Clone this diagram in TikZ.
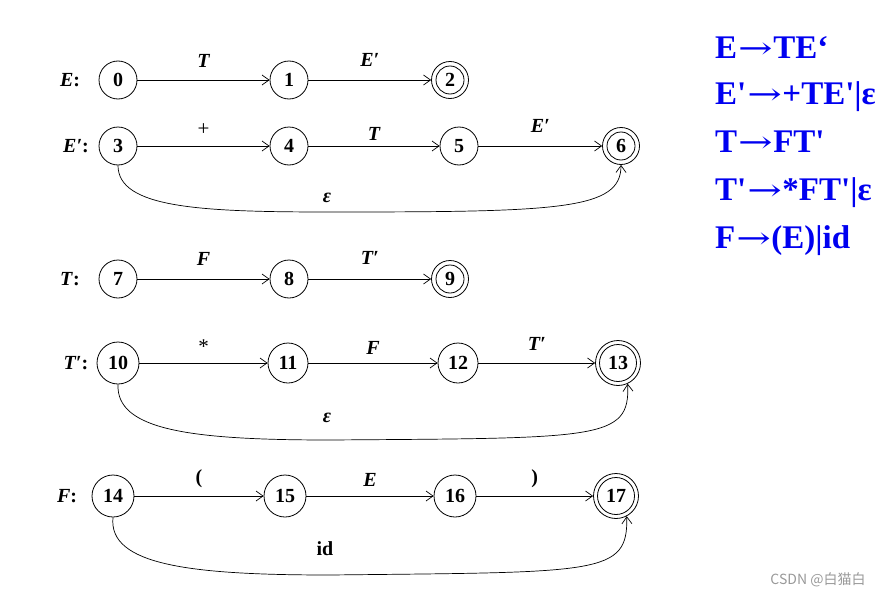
\documentclass[tikz,border=0pt]{standalone}
\usepackage{fontspec}
\usepackage{graphicx}
\setmainfont{Liberation Serif}
\newfontfamily\gramfont{Liberation Serif}
\newfontfamily\arrfont{DejaVu Serif}
\newfontfamily\cjk{Noto Sans CJK SC}
\usetikzlibrary{arrows.meta}
\definecolor{gramblue}{RGB}{0,0,240}
\newcommand{\garr}{\kern1pt\scalebox{1.25}[0.9]{\arrfont\mdseries →}\kern0.5pt}
\begin{document}
\begin{tikzpicture}[x=1pt,y=-1pt,
  st/.style={circle,draw,line width=0.8pt,minimum size=38pt,inner sep=0pt,font=\fontsize{20}{22}\selectfont\bfseries},
  bst/.style={st,minimum size=42pt},
  acc/.style={st,minimum size=37pt},
  bacc/.style={st,minimum size=45pt},
  arr/.style={line width=0.7pt,-{Straight Barb[length=7pt,width=10pt]}},
  elab/.style={font=\fontsize{20}{22}\selectfont\bfseries\itshape},
  plab/.style={font=\fontsize{21}{22}\selectfont},
  blab/.style={font=\fontsize{20}{22}\selectfont\bfseries},
  rlab/.style={font=\fontsize{20}{22}\selectfont\bfseries},
  gram/.style={anchor=base west,inner sep=0pt,text=gramblue,font=\gramfont\fontsize{33}{36}\selectfont\bfseries},
]
\useasboundingbox (0,0) rectangle (892,597);

% ---- row E
\node[rlab] (lE) at (70,80) {\textit{E}:};
\node[st] (n0) at (118,80) {0};
\node[st] (n1) at (289,80) {1};
\node[acc] (n2) at (450,80) {2};
\draw[line width=0.8pt] (n2.center) circle (14pt);
\draw[arr] (n0) -- (n1) node[elab,midway,above=9pt] (t01) {T};
\draw[arr] (n1) -- (n2) node[elab,midway,above=10pt] (t12) {E′};

% ---- row E'
\node[rlab] (lEp) at (76,146) {\textit{E′}:};
\node[st] (n3) at (118,146) {3};
\node[st] (n4) at (289,146) {4};
\node[st] (n5) at (459,146) {5};
\node[acc] (n6) at (621,146) {6};
\draw[line width=0.8pt] (n6.center) circle (14pt);
\draw[arr] (n3) -- (n4) node[plab,midway,above=7pt] (t34) {+};
\draw[arr] (n4) -- (n5) node[elab,midway,above=2pt] (t45) {T};
\draw[arr] (n5) -- (n6) node[elab,midway,above=10pt] (t56) {E′};
\coordinate (m36) at (330,212);
\draw[arr] (n3.south) .. controls (118,208) and (200,212) .. (m36)
  .. controls (560,212) and (621,210) .. (n6.south);
\node[elab] (eps1) at (327,198) {ε};

% ---- row T
\node[rlab] (lT) at (70,279) {\textit{T}:};
\node[st] (n7) at (118,279) {7};
\node[st] (n8) at (289,279) {8};
\node[acc] (n9) at (450,279) {9};
\draw[line width=0.8pt] (n9.center) circle (14pt);
\draw[arr] (n7) -- (n8) node[elab,midway,above=10pt] (t78) {F};
\draw[arr] (n8) -- (n9) node[elab,midway,above=11pt] (t89) {T′};

% ---- row T'
\node[rlab] (lTp) at (76,363) {\textit{T′}:};
\node[bst] (n10) at (118,363) {10};
\node[st,minimum size=40pt] (n11) at (288,363) {11};
\node[st,minimum size=40pt] (n12) at (458,363) {12};
\node[bacc] (n13) at (618,363) {13};
\draw[line width=0.8pt] (n13.center) circle (18.5pt);
\draw[arr] (n10) -- (n11) node[plab,midway,above=6pt] (t1011) {*};
\draw[arr] (n11) -- (n12) node[elab,midway,above=5pt] (t1112) {F};
\draw[arr] (n12) -- (n13) node[elab,midway,above=9pt] (t1213) {T′};
\coordinate (m1013) at (330,440);
\draw[arr] (n10.south) .. controls (116,430) and (190,440) .. (m1013)
  .. controls (600,438) and (630,440) .. (n13.-65);
\node[elab] (eps2) at (327,418) {ε};

% ---- row F
\node[rlab] (lF) at (67,496) {\textit{F}:};
\node[bst] (n14) at (113,496) {14};
\node[bst] (n15) at (285,496) {15};
\node[bst] (n16) at (455,496) {16};
\node[bacc] (n17) at (616,496) {17};
\draw[line width=0.8pt] (n17.center) circle (18.5pt);
\draw[arr] (n14) -- (n15) node[blab,midway,above=5pt] (t1415) {(};
\draw[arr] (n15) -- (n16) node[elab,midway,above=6pt] (t1516) {E};
\draw[arr] (n16) -- (n17) node[blab,midway,above=5pt] (t1617) {)};
\coordinate (m1417) at (330,575);
\draw[arr] (n14.south) .. controls (108,565) and (190,575) .. (m1417)
  .. controls (600,572) and (628,575) .. (n17.-62);
\node[blab] (idl) at (325,549) {id};

% ---- grammar
\node[gram] (g1) at (715,58) {E\garr TE‘};
\node[gram] (g2) at (715,104) {E'\garr +TE'|ε};
\node[gram] (g3) at (715,152) {T\garr FT'};
\node[gram] (g4) at (715,200) {T'\garr *FT'|ε};
\node[gram] (g5) at (715,248) {F\garr (E)|id};

% ---- watermark
\node[text=black!40,font=\cjk\fontsize{14}{16}\selectfont] (wm) at (818,580) {CSDN @白猫白};
\end{tikzpicture}
\end{document}
